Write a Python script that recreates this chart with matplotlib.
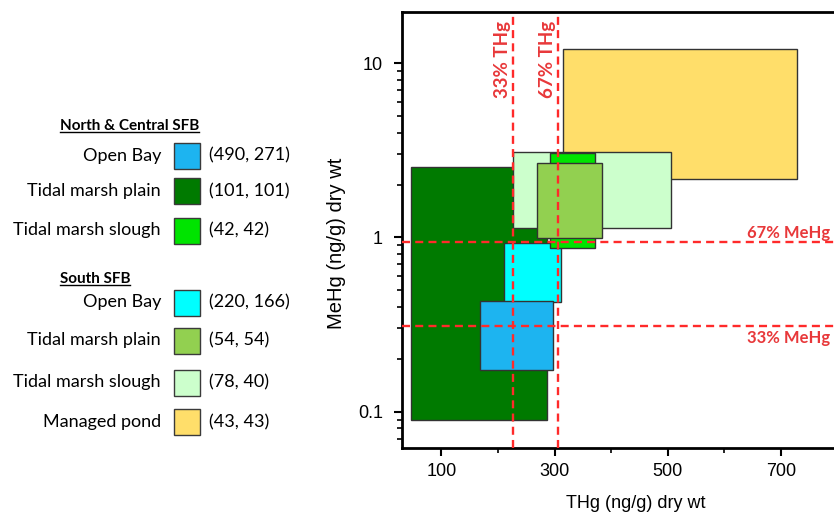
import matplotlib
matplotlib.use('Agg')
import matplotlib.pyplot as plt
from matplotlib.patches import Rectangle
from matplotlib.ticker import FixedLocator, NullFormatter, FuncFormatter

# groups in the key: North & Central SFB first, then South SFB
region = ['North & Central SFB'] * 3 + ['South SFB'] * 4
habitat = ['Open Bay', 'Tidal marsh plain', 'Tidal marsh slough',
           'Open Bay', 'Tidal marsh plain', 'Tidal marsh slough', 'Managed pond']
n_samples = ['(490, 271)', '(101, 101)', '(42, 42)',
             '(220, 166)', '(54, 54)', '(78, 40)', '(43, 43)']
colors = ['#1DB4F0', '#007A00', '#00E400', '#00FFFF', '#92D050', '#CCFFCC', '#FFDE6A']

# interquartile boxes, THg and MeHg (ng/g dry wt)
thg_lo = [169, 47, 292, 211, 269, 227, 314]
thg_hi = [298, 287, 371, 311, 384, 506, 729]
mehg_lo = [0.174, 0.090, 0.874, 0.423, 0.997, 1.13, 2.16]
mehg_hi = [0.434, 2.55, 3.04, 0.933, 2.67, 3.08, 12.0]

# percentile thresholds
thg_pct = [226, 306]
thg_pct_labels = ['33% THg', '67% THg']
mehg_pct = [0.31, 0.938]
mehg_pct_labels = ['33% MeHg', '67% MeHg']

draw_order = [6, 1, 5, 3, 2, 4, 0]
red_line = '#FF2A2A'
red_text = '#E8383A'
tick_font = 'Liberation Sans'
key_font = 'Lato'

fig = plt.figure(figsize=(8.34, 5.13), dpi=100)

# key on the left, drawn in pixel coordinates
lax = fig.add_axes([0, 0, 1, 1], zorder=-1)
lax.set_xlim(0, 834)
lax.set_ylim(513, 0)
lax.axis('off')

row_y = [155.5, 191, 230.5, 302.5, 340.5, 382.5, 422]
header_y = {'North & Central SFB': 126, 'South SFB': 279}

headers = []
for name, y in header_y.items():
    t = lax.text(60, y, name, ha='left', va='center', fontsize=11,
                 fontweight='bold', family=key_font)
    headers.append(t)

for i in range(len(habitat)):
    y = row_y[i]
    lax.add_patch(Rectangle((174, y - 13), 26, 26, facecolor=colors[i],
                            edgecolor='#3a3a3a', linewidth=1))
    lax.text(161, y, habitat[i], ha='right', va='center', fontsize=13, family=key_font)
    lax.text(209, y, n_samples[i], ha='left', va='center', fontsize=13, family=key_font)

# main plot
ax = fig.add_axes([0.4817, 0.1273, 0.5227, 0.8493])
ax.set_yscale('log')
ax.set_xlim(30, 800)
ax.set_ylim(0.062, 19.7)

for i in draw_order:
    ax.add_patch(Rectangle((thg_lo[i], mehg_lo[i]), thg_hi[i] - thg_lo[i],
                           mehg_hi[i] - mehg_lo[i], facecolor=colors[i],
                           edgecolor='#333333', linewidth=1))

for x, lab in zip(thg_pct, thg_pct_labels):
    ax.axvline(x, color=red_line, linewidth=1.7, dashes=(3.4, 2.2), zorder=5)
    ax.text(x - 3, 17.6, lab, rotation=90, ha='right', va='top', color=red_text,
            fontsize=13.5, fontweight='bold', family=key_font, zorder=6)

for y, lab in zip(mehg_pct, mehg_pct_labels):
    ax.axhline(y, color=red_line, linewidth=1.7, dashes=(3.4, 2.2), zorder=5)
    if lab.startswith('67'):
        ax.text(787, y * 1.01, lab, ha='right', va='bottom', color=red_text,
                fontsize=12, fontweight='bold', family=key_font, zorder=6)
    else:
        ax.text(787, y / 1.05, lab, ha='right', va='top', color=red_text,
                fontsize=12, fontweight='bold', family=key_font, zorder=6)

ax.xaxis.set_major_locator(FixedLocator([100, 300, 500, 700]))
ax.xaxis.set_minor_locator(FixedLocator([200, 400, 600, 800]))
ax.yaxis.set_major_locator(FixedLocator([0.1, 1, 10]))
ax.yaxis.set_major_formatter(FuncFormatter(lambda v, p: '%g' % v))
ax.yaxis.set_minor_formatter(NullFormatter())
ax.tick_params(which='major', direction='out', length=6, width=1.5, labelsize=13, pad=5)
ax.tick_params(axis='y', which='major', pad=7.5)
ax.tick_params(which='minor', direction='out', length=3.5, width=1.2)
for lbl in ax.get_xticklabels() + ax.get_yticklabels():
    lbl.set_family(tick_font)
for s in ax.spines.values():
    s.set_linewidth(2)

ax.set_xlabel('THg (ng/g) dry wt', fontsize=13, family=tick_font)
ax.set_ylabel('MeHg (ng/g) dry wt', fontsize=14.5, family=tick_font)
ax.xaxis.set_label_coords(0.537, -0.108)
ax.yaxis.set_label_coords(-0.128, 0.469)

# underline the group headers
fig.canvas.draw()
inv = lax.transData.inverted()
for t in headers:
    bb = t.get_window_extent()
    (x0, y0), (x1, y1) = inv.transform([[bb.x0, bb.y0], [bb.x1, bb.y1]])
    yl = max(y0, y1) - 1
    lax.plot([x0, x1], [yl, yl], color='black', linewidth=1)

fig.savefig('out.png', dpi=100)
